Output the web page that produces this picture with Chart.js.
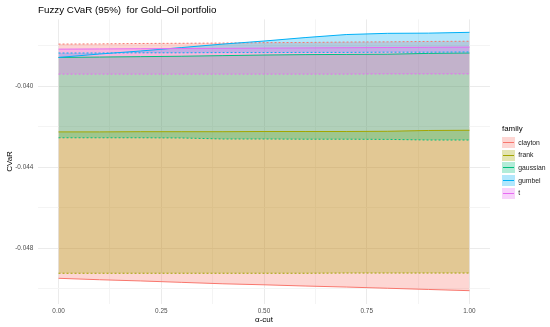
<!DOCTYPE html>
<html>
<head>
<meta charset="utf-8">
<script src="https://cdn.jsdelivr.net/npm/chart.js@4.4.1/dist/chart.umd.min.js"></script>
<style>
  body { margin: 0; background: #fff; }
  #wrap { position: relative; width: 550px; height: 327px; font-family: "Liberation Sans", Arial, sans-serif; }
  #title { position: absolute; left: 38px; top: 4px; font-size: 9.8px; line-height: 12px; color: #000; white-space: pre; }
  #legendTitle { position: absolute; left: 502px; top: 124.5px; font-size: 7.9px; line-height: 8px; color: #000; }
  .key { position: absolute; left: 502px; width: 12.6px; height: 11px; }
  .key span { position: absolute; left: 0.5px; right: 0.5px; top: 5px; height: 1px; }
  .lab { position: absolute; left: 518.3px; font-size: 6.8px; line-height: 8px; color: #222; }
</style>
</head>
<body>
<div id="wrap">
  <canvas id="chart" width="550" height="327"></canvas>
  <div id="title">Fuzzy CVaR (95%)  for Gold–Oil portfolio</div>
  <div id="legendTitle">family</div>
  <div id="legend"></div>
</div>
<script>
// données
const alphaCut = [0, 0.1, 0.2, 0.3, 0.4, 0.5, 0.6, 0.7, 0.8, 0.9, 1.0];
const families = ['clayton', 'frank', 'gaussian', 'gumbel', 't'];
const colors = ['#F8766D', '#A3A500', '#00BF7D', '#00B0F6', '#E76BF3'];

const claytonSolid   = [-0.04948, -0.04955, -0.04961, -0.04968, -0.04975, -0.04980, -0.04986, -0.04991, -0.04997, -0.05003, -0.05009];
const claytonDashed  = [-0.03793, -0.03792, -0.03790, -0.03789, -0.03788, -0.03786, -0.03785, -0.03783, -0.03782, -0.03780, -0.03779];
const frankSolid     = [-0.04226, -0.04226, -0.04225, -0.04225, -0.04225, -0.04224, -0.04224, -0.04224, -0.04223, -0.04219, -0.04218];
const frankDashed    = [-0.04923, -0.04923, -0.04923, -0.04923, -0.04923, -0.04923, -0.04923, -0.04922, -0.04922, -0.04922, -0.04922];
const gaussianSolid  = [-0.03859, -0.03857, -0.03855, -0.03853, -0.03850, -0.03847, -0.03845, -0.03844, -0.03843, -0.03839, -0.03837];
const gaussianDashed = [-0.04255, -0.04255, -0.04255, -0.04256, -0.04261, -0.04261, -0.04262, -0.04262, -0.04263, -0.04266, -0.04266];
const gumbelSolid    = [-0.03859, -0.03842, -0.03827, -0.03810, -0.03793, -0.03778, -0.03761, -0.03746, -0.03740, -0.03739, -0.03735];
const gumbelDashed   = [-0.03837, -0.03837, -0.03836, -0.03836, -0.03835, -0.03835, -0.03834, -0.03834, -0.03833, -0.03833, -0.03832];
const tSolid         = [-0.03818, -0.03817, -0.03816, -0.03815, -0.03814, -0.03813, -0.03812, -0.03811, -0.03810, -0.03809, -0.03808];
const tDashed        = [-0.03941, -0.03941, -0.03941, -0.03941, -0.03941, -0.03941, -0.03941, -0.03941, -0.03940, -0.03940, -0.03940];

const solidSeries = [claytonSolid, frankSolid, gaussianSolid, gumbelSolid, tSolid];
const dashedSeries = [claytonDashed, frankDashed, gaussianDashed, gumbelDashed, tDashed];

// ticks
const xMajor = [0, 0.25, 0.5, 0.75, 1];
const xMinor = [0.125, 0.375, 0.625, 0.875];
const yMajor = [-0.048, -0.044, -0.040];
const yMinor = [-0.050, -0.046, -0.042, -0.038];

function rgba(hex, a) {
    const n = parseInt(hex.slice(1), 16);
    return `rgba(${(n >> 16) & 255},${(n >> 8) & 255},${n & 255},${a})`;
}
function isMajor(list, v) {
    return list.some(m => Math.abs(m - v) < 1e-9);
}

// étendue façon ggplot (5%)
const allVals = solidSeries.concat(dashedSeries).flat();
const yLo = Math.min(...allVals), yHi = Math.max(...allVals);
const pad = (yHi - yLo) * 0.05;

const datasets = [];
families.forEach((fam, i) => {
    datasets.push({
        label: fam,
        data: alphaCut.map((a, j) => ({ x: a, y: solidSeries[i][j] })),
        borderColor: colors[i],
        borderWidth: 1,
        backgroundColor: rgba(colors[i], 0.3),
        fill: '+1',
        pointRadius: 0,
        tension: 0,
        order: 10 - i
    });
    datasets.push({
        label: fam + ' (dashed)',
        data: alphaCut.map((a, j) => ({ x: a, y: dashedSeries[i][j] })),
        borderColor: colors[i],
        borderWidth: 1,
        borderDash: [2, 2],
        fill: false,
        pointRadius: 0,
        tension: 0,
        order: 10 - i
    });
});

Chart.defaults.font.family = '"Liberation Sans", Arial, sans-serif';

const ctx = document.getElementById('chart').getContext('2d');
const fuzzyChart = new Chart(ctx, {
    type: 'line',
    data: { datasets: datasets },
    options: {
        responsive: false,
        animation: false,
        devicePixelRatio: 1,
        layout: { padding: { top: 19.4, right: 60, left: 0, bottom: 0 } },
        plugins: {
            legend: { display: false },
            tooltip: { enabled: false },
            filler: { drawTime: 'beforeDatasetsDraw' }
        },
        scales: {
            x: {
                type: 'linear',
                min: -0.05,
                max: 1.05,
                afterBuildTicks: s => { s.ticks = xMajor.concat(xMinor).sort((a, b) => a - b).map(v => ({ value: v })); },
                afterFit: s => { s.height = 23.4; },
                border: { display: false },
                grid: {
                    drawTicks: false,
                    color: c => isMajor(xMajor, c.tick.value) ? '#EBEBEB' : '#F4F4F4',
                    lineWidth: 1
                },
                ticks: {
                    autoSkip: false,
                    maxRotation: 0,
                    padding: 4,
                    color: '#4D4D4D',
                    font: { size: 6.4 },
                    callback: v => isMajor(xMajor, v) ? v.toFixed(2) : ''
                },
                title: {
                    display: true,
                    text: 'α-cut',
                    color: '#000',
                    font: { size: 8 },
                    padding: { top: 0, bottom: 2.2 }
                }
            },
            y: {
                min: yLo - pad,
                max: yHi + pad,
                afterBuildTicks: s => { s.ticks = yMajor.concat(yMinor).sort((a, b) => a - b).map(v => ({ value: v })); },
                afterFit: s => { s.width = 38; },
                border: { display: false },
                grid: {
                    drawTicks: false,
                    color: c => isMajor(yMajor, c.tick.value) ? '#EBEBEB' : '#F4F4F4',
                    lineWidth: 1
                },
                ticks: {
                    padding: 4.7,
                    color: '#4D4D4D',
                    font: { size: 6.4 },
                    callback: v => isMajor(yMajor, v) ? v.toFixed(3) : ''
                },
                title: {
                    display: true,
                    text: 'CVaR',
                    color: '#000',
                    font: { size: 8 },
                    padding: { top: 5.2, bottom: 0 }
                }
            }
        }
    }
});

// légende à la ggplot
const legend = document.getElementById('legend');
families.forEach((fam, i) => {
    const cy = 142.7 + i * 12.6;
    const key = document.createElement('div');
    key.className = 'key';
    key.style.top = (cy - 5.5) + 'px';
    key.style.background = rgba(colors[i], 0.3);
    const line = document.createElement('span');
    line.style.background = colors[i];
    key.appendChild(line);
    legend.appendChild(key);
    const lab = document.createElement('div');
    lab.className = 'lab';
    lab.style.top = (cy - 4) + 'px';
    lab.textContent = fam;
    legend.appendChild(lab);
});
</script>
</body>
</html>
